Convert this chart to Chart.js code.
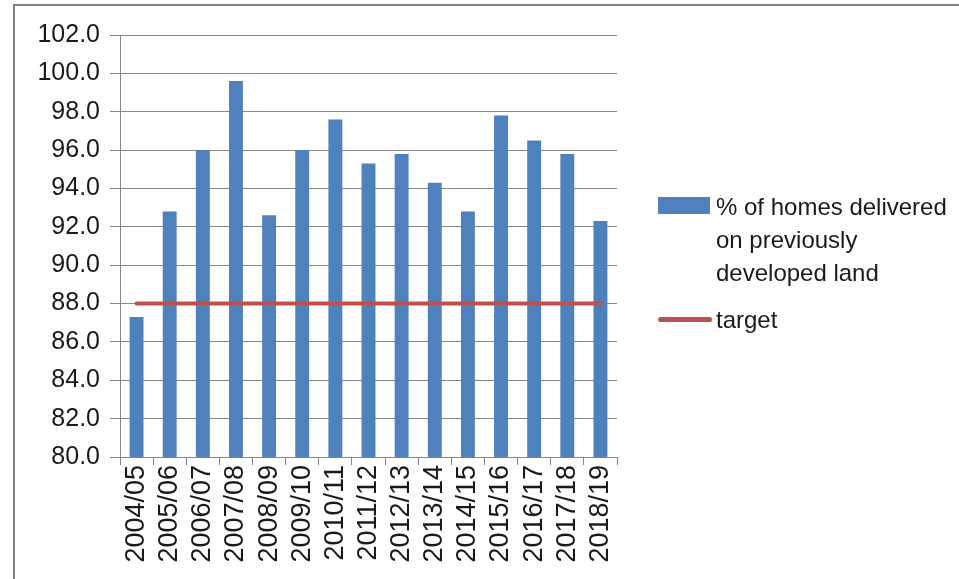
<!DOCTYPE html>
<html>
<head>
    <title>Homes on previously developed land</title>
    <script src="https://cdn.jsdelivr.net/npm/chart.js"></script>
    <style>
        body { margin: 0; background: #fff; font-family: "Liberation Sans", Arial, sans-serif; }
        #wrap { position: relative; width: 959px; height: 579px; overflow: hidden; }
        #frame { position: absolute; left: 13px; top: 4px; right: -5px; bottom: -5px;
                 border-top: 2px solid #808080; border-left: 2px solid #808080; }
        #legend { position: absolute; left: 658px; top: 190px; font-size: 24px; color: #1a1a1a; }
        .item { position: relative; padding-left: 58px; line-height: 33px; margin-bottom: 14px; }
        .sw { position: absolute; left: 0; }
    </style>
</head>
<body>
<div id="wrap">
    <div id="frame"></div>
    <canvas id="pdlChart" width="959" height="579"></canvas>
    <div id="legend"></div>
</div>

<script>
    const years = ['2004/05', '2005/06', '2006/07', '2007/08', '2008/09', '2009/10', '2010/11',
        '2011/12', '2012/13', '2013/14', '2014/15', '2015/16', '2016/17', '2017/18', '2018/19'];
    const pdlShare = [87.3, 92.8, 96.0, 99.6, 92.6, 96.0, 97.6, 95.3, 95.8, 94.3, 92.8, 97.8, 96.5, 95.8, 92.3];
    const target = [88, 88, 88, 88, 88, 88, 88, 88, 88, 88, 88, 88, 88, 88, 88];
    const barLabel = ['% of homes delivered', 'on previously', 'developed land'];
    const lineLabel = 'target';

    const blue = '#4F81BD';
    const red = '#C0504D';
    const gridGrey = '#868686';
    const family = '"Liberation Sans", Arial, sans-serif';

    const ctx = document.getElementById('pdlChart').getContext('2d');
    const pdlChart = new Chart(ctx, {
        data: {
            labels: years,
            datasets: [{
                type: 'line',
                label: lineLabel,
                data: target,
                borderColor: red,
                borderWidth: 4,
                borderCapStyle: 'round',
                pointRadius: 0,
                order: 0
            }, {
                type: 'bar',
                label: barLabel,
                data: pdlShare,
                backgroundColor: blue,
                categoryPercentage: 1,
                barPercentage: 0.42,
                order: 1
            }]
        },
        options: {
            responsive: false,
            animation: false,
            layout: { padding: { left: 0, top: 35, right: 342, bottom: 0 } },
            plugins: {
                legend: { display: false },
                tooltip: { enabled: false }
            },
            scales: {
                x: {
                    grid: { drawOnChartArea: false, color: gridGrey, tickLength: 8, offset: true },
                    border: { color: gridGrey },
                    ticks: { color: '#1a1a1a', font: { family: family, size: 27 }, minRotation: 90, maxRotation: 90, padding: 0, autoSkip: false },
                    afterFit: s => { s.height = 122; }
                },
                y: {
                    min: 80,
                    max: 102,
                    grid: { color: gridGrey, tickLength: 10 },
                    border: { color: gridGrey },
                    ticks: {
                        stepSize: 2,
                        color: '#1a1a1a',
                        font: { family: family, size: 25 },
                        padding: 10,
                        callback: v => v.toFixed(1)
                    },
                    afterFit: s => { s.width = 120; }
                }
            }
        }
    });

    // legend next to the plot, built from the datasets
    const legend = document.getElementById('legend');
    [pdlChart.data.datasets[1], pdlChart.data.datasets[0]].forEach(ds => {
        const item = document.createElement('div');
        item.className = 'item';
        const sw = document.createElement('span');
        sw.className = 'sw';
        if (ds.type === 'bar') {
            sw.style.cssText = 'top:7px;width:52px;height:17px;background:' + ds.backgroundColor;
        } else {
            sw.style.cssText = 'top:14px;width:54px;height:5px;border-radius:3px;background:' + ds.borderColor;
        }
        item.appendChild(sw);
        const lines = Array.isArray(ds.label) ? ds.label : [ds.label];
        item.appendChild(document.createRange().createContextualFragment(lines.join('<br>')));
        legend.appendChild(item);
    });
</script>
</body>
</html>
